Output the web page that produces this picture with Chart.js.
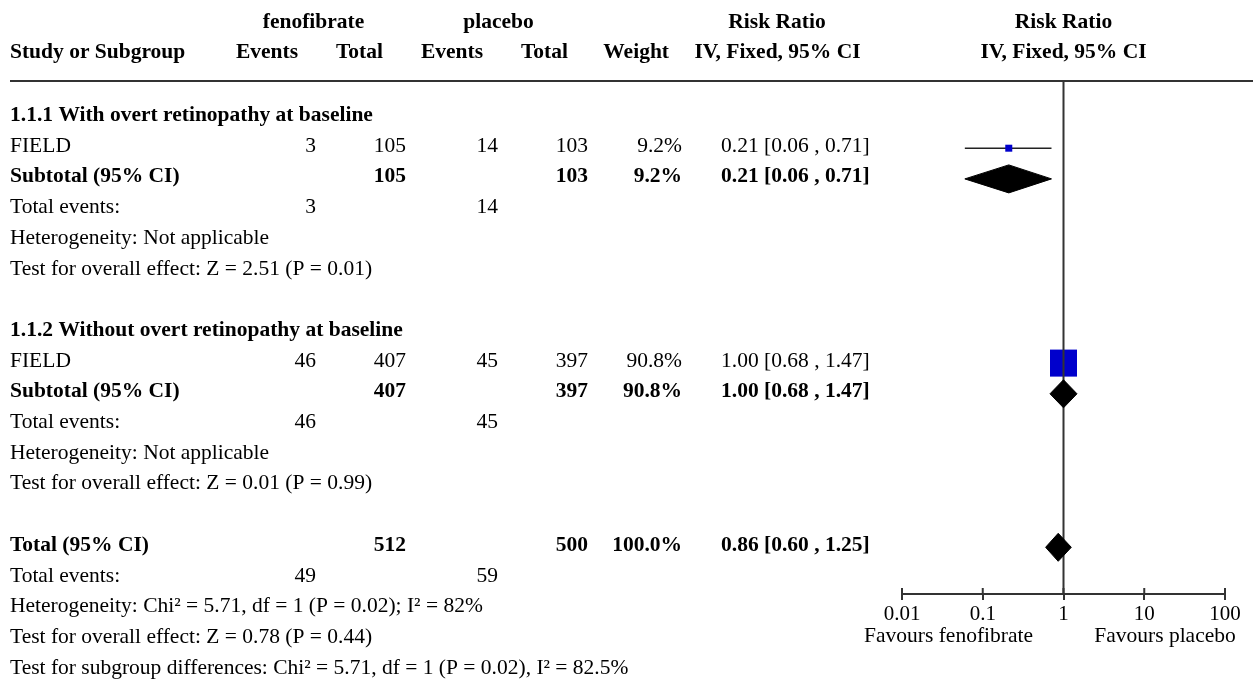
<!DOCTYPE html>
<html>
<head>
<meta charset="utf-8">
<title>Forest plot</title>
<script src="https://cdn.jsdelivr.net/npm/chart.js@4.4.1/dist/chart.umd.min.js"></script>
<style>
  html, body { margin: 0; padding: 0; background: #fff; }
  #wrap { width: 1253px; height: 682px; }
</style>
</head>
<body>
<div id="wrap"><canvas id="forest" width="1253" height="682"></canvas></div>
<script>
'use strict'

// Subgroups and studies
var groupTitles = ['1.1.1 With overt retinopathy at baseline', '1.1.2 Without overt retinopathy at baseline']
var studyNames = ['FIELD', 'FIELD']
var fenoEvents = [3, 46]
var fenoTotal = [105, 407]
var placEvents = [14, 45]
var placTotal = [103, 397]
var weights = [9.2, 90.8]
var rr = [0.21, 1.00]
var rrLow = [0.06, 0.68]
var rrHigh = [0.71, 1.47]

// pooled per subgroup (one study each)
var subRR = [0.21, 1.00]
var subLow = [0.06, 0.68]
var subHigh = [0.71, 1.47]
var subZ = [2.51, 0.01]
var subP = [0.01, 0.99]

// overall
var totalRR = 0.86
var totalLow = 0.60
var totalHigh = 1.25
var totalN = [512, 500]
var totalEvents = [49, 59]
var overallZ = 0.78
var overallP = 0.44
var het = { chi2: 5.71, df: 1, p: 0.02, i2: 82 }
var subgroupDiff = { chi2: 5.71, df: 1, p: 0.02, i2: 82.5 }

var xTicks = [0.01, 0.1, 1, 10, 100]

// layout
var FONT = 'Liberation Serif, Times New Roman, serif'
var FS = 21.5
var ROW_H = 30.7
var FIRST_ROW_Y = 117.5
var PLOT_TOP = 81
var PLOT_BOTTOM = 594
var Y_MIN = -(FIRST_ROW_Y - PLOT_TOP) / ROW_H
var Y_MAX = (PLOT_BOTTOM - FIRST_ROW_Y) / ROW_H
var DIAMOND_H = 14 / ROW_H
var TEXT_SHIFT = 3.5

function groupRow(g) { return g * 7 }
var TOTAL_ROW = 14

function ci(v, lo, hi) {
  return v.toFixed(2) + ' [' + lo.toFixed(2) + ' , ' + hi.toFixed(2) + ']'
}

// square side grows with study weight
function squareRadius(w) {
  return 1.89 * Math.pow(w, 0.59) / Math.SQRT2
}

// datasets
var datasets = []

datasets.push({
  data: [{ x: 1, y: Y_MIN }, { x: 1, y: Y_MAX }],
  borderColor: '#333',
  borderWidth: 2,
  pointRadius: 0,
  order: 1
})

rr.forEach(function (v, g) {
  var row = groupRow(g) + 1
  datasets.push({
    data: [{ x: rrLow[g], y: row }, { x: rrHigh[g], y: row }],
    borderColor: '#222',
    borderWidth: 1.5,
    pointRadius: 0,
    order: 3
  })
})

datasets.push({
  data: rr.map(function (v, g) { return { x: v, y: groupRow(g) + 1 } }),
  showLine: false,
  pointStyle: 'rect',
  pointRadius: weights.map(squareRadius),
  pointBackgroundColor: '#0000cc',
  pointBorderWidth: 0,
  order: 2
})

function addDiamond(v, lo, hi, row) {
  datasets.push({
    data: [{ x: lo, y: row }, { x: v, y: row - DIAMOND_H }, { x: hi, y: row }],
    borderColor: '#000',
    borderWidth: 1,
    backgroundColor: '#000',
    pointRadius: 0,
    fill: '+1',
    order: 0
  })
  datasets.push({
    data: [{ x: lo, y: row }, { x: v, y: row + DIAMOND_H }, { x: hi, y: row }],
    borderColor: '#000',
    borderWidth: 1,
    pointRadius: 0,
    fill: false,
    order: 0
  })
}
subRR.forEach(function (v, g) { addDiamond(v, subLow[g], subHigh[g], groupRow(g) + 2) })
addDiamond(totalRR, totalLow, totalHigh, TOTAL_ROW)

// table text + axis decorations
var tablePlugin = {
  id: 'tableText',
  afterDraw: function (chart) {
    var ctx = chart.ctx
    var ys = chart.scales.y
    var xs = chart.scales.x
    var colRight = [316, 406, 498, 588, 682]
    var ciLeft = 721
    var oneX = xs.getPixelForValue(1)

    function put(s, px, py, align, bold) {
      ctx.font = (bold ? 'bold ' : '') + FS + 'px ' + FONT
      ctx.textAlign = align
      ctx.textBaseline = 'alphabetic'
      ctx.fillStyle = '#000'
      ctx.fillText(s, px, py)
    }
    function rowY(r) { return ys.getPixelForValue(r) + TEXT_SHIFT }

    ctx.save()

    // header
    put('fenofibrate', 313.5, 28, 'center', true)
    put('placebo', 498.5, 28, 'center', true)
    put('Risk Ratio', 777, 28, 'center', true)
    put('Risk Ratio', oneX, 28, 'center', true)
    put('Study or Subgroup', 10, 58, 'left', true)
    put('Events', 298, 58, 'right', true)
    put('Total', 383, 58, 'right', true)
    put('Events', 483, 58, 'right', true)
    put('Total', 568, 58, 'right', true)
    put('Weight', 669, 58, 'right', true)
    put('IV, Fixed, 95% CI', 777.5, 58, 'center', true)
    put('IV, Fixed, 95% CI', oneX, 58, 'center', true)

    ctx.strokeStyle = '#333'
    ctx.lineWidth = 2
    ctx.beginPath()
    ctx.moveTo(10, 81)
    ctx.lineTo(1253, 81)
    ctx.stroke()

    groupTitles.forEach(function (t, g) {
      var r = groupRow(g)
      put(t, 10, rowY(r), 'left', true)
      put(studyNames[g], 10, rowY(r + 1), 'left', false)
      put(String(fenoEvents[g]), colRight[0], rowY(r + 1), 'right', false)
      put(String(fenoTotal[g]), colRight[1], rowY(r + 1), 'right', false)
      put(String(placEvents[g]), colRight[2], rowY(r + 1), 'right', false)
      put(String(placTotal[g]), colRight[3], rowY(r + 1), 'right', false)
      put(weights[g].toFixed(1) + '%', colRight[4], rowY(r + 1), 'right', false)
      put(ci(rr[g], rrLow[g], rrHigh[g]), ciLeft, rowY(r + 1), 'left', false)

      put('Subtotal (95% CI)', 10, rowY(r + 2), 'left', true)
      put(String(fenoTotal[g]), colRight[1], rowY(r + 2), 'right', true)
      put(String(placTotal[g]), colRight[3], rowY(r + 2), 'right', true)
      put(weights[g].toFixed(1) + '%', colRight[4], rowY(r + 2), 'right', true)
      put(ci(subRR[g], subLow[g], subHigh[g]), ciLeft, rowY(r + 2), 'left', true)

      put('Total events:', 10, rowY(r + 3), 'left', false)
      put(String(fenoEvents[g]), colRight[0], rowY(r + 3), 'right', false)
      put(String(placEvents[g]), colRight[2], rowY(r + 3), 'right', false)
      put('Heterogeneity: Not applicable', 10, rowY(r + 4), 'left', false)
      put('Test for overall effect: Z = ' + subZ[g].toFixed(2) + ' (P = ' + subP[g].toFixed(2) + ')', 10, rowY(r + 5), 'left', false)
    })

    var t = TOTAL_ROW
    var wSum = weights.reduce(function (a, b) { return a + b }, 0)
    put('Total (95% CI)', 10, rowY(t), 'left', true)
    put(String(totalN[0]), colRight[1], rowY(t), 'right', true)
    put(String(totalN[1]), colRight[3], rowY(t), 'right', true)
    put(wSum.toFixed(1) + '%', colRight[4], rowY(t), 'right', true)
    put(ci(totalRR, totalLow, totalHigh), ciLeft, rowY(t), 'left', true)
    put('Total events:', 10, rowY(t + 1), 'left', false)
    put(String(totalEvents[0]), colRight[0], rowY(t + 1), 'right', false)
    put(String(totalEvents[1]), colRight[2], rowY(t + 1), 'right', false)
    put('Heterogeneity: Chi\u00b2 = ' + het.chi2.toFixed(2) + ', df = ' + het.df + ' (P = ' + het.p.toFixed(2) + '); I\u00b2 = ' + het.i2 + '%', 10, rowY(t + 2), 'left', false)
    put('Test for overall effect: Z = ' + overallZ.toFixed(2) + ' (P = ' + overallP.toFixed(2) + ')', 10, rowY(t + 3), 'left', false)
    put('Test for subgroup differences: Chi\u00b2 = ' + subgroupDiff.chi2.toFixed(2) + ', df = ' + subgroupDiff.df + ' (P = ' + subgroupDiff.p.toFixed(2) + '), I\u00b2 = ' + subgroupDiff.i2.toFixed(1) + '%', 10, rowY(t + 4), 'left', false)

    // upper half of the axis ticks
    var bottom = chart.chartArea.bottom
    ctx.strokeStyle = '#333'
    ctx.lineWidth = 2
    xTicks.forEach(function (v) {
      var px = xs.getPixelForValue(v)
      ctx.beginPath()
      ctx.moveTo(px, bottom - 6)
      ctx.lineTo(px, bottom)
      ctx.stroke()
    })

    put('Favours fenofibrate', 948.5, 642, 'center', false)
    put('Favours placebo', 1165, 642, 'center', false)

    ctx.restore()
  }
}

// eslint-disable-next-line no-unused-vars
var forest = new Chart(document.getElementById('forest'), {
  type: 'line',
  data: { datasets: datasets },
  plugins: [tablePlugin],
  options: {
    responsive: false,
    animation: false,
    events: [],
    layout: { padding: { left: 902, right: 28, top: PLOT_TOP, bottom: 0 } },
    elements: { line: { tension: 0 } },
    plugins: { legend: { display: false }, tooltip: { enabled: false } },
    scales: {
      x: {
        type: 'logarithmic',
        min: 0.01,
        max: 100,
        afterBuildTicks: function (scale) {
          scale.ticks = xTicks.map(function (v) { return { value: v } })
        },
        afterFit: function (scale) { scale.height = 682 - PLOT_BOTTOM },
        border: { display: true, color: '#333', width: 2 },
        grid: { drawOnChartArea: false, drawTicks: true, tickLength: 6, color: '#333', lineWidth: 2 },
        ticks: {
          autoSkip: false,
          maxRotation: 0,
          padding: 2,
          color: '#000',
          font: { family: FONT, size: 21 },
          callback: function (v) { return String(v) }
        }
      },
      y: {
        type: 'linear',
        reverse: true,
        min: Y_MIN,
        max: Y_MAX,
        display: false
      }
    }
  }
})
</script>
</body>
</html>
